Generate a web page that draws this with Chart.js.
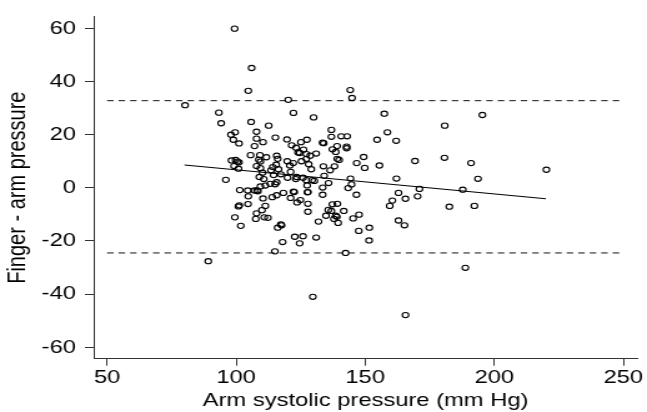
<!DOCTYPE html>
<html><head><meta charset="utf-8">
<script src="https://cdn.jsdelivr.net/npm/chart.js@4"></script>
<style>
html,body{margin:0;padding:0;background:#fff;overflow:hidden;}
#wrap{position:absolute;left:0;top:0;width:518px;height:412px;transform:scaleX(1.249);transform-origin:0 0;}
</style></head><body>
<div id="wrap"><canvas id="c"></canvas></div>
<script>
// Arm systolic pressure (mm Hg)
const armPressure = [
99.4,106,104.7,144.2,144.9,120.2,80.2,
93.3,94.2,122.2,130,157.4,105.8,112.6,98,99.6,98.9,101.1,107.9,107.9,107.1,110.4,115.2,119.7,121.5,123.2,125.1,127.4,126.1,124.6,127.2,131,133.5,133.9,136.9,136.9,140.7,143,139.1,137.3,138.6,142.8,142.8,139.2,139.9,154.6,158.6,162,149.4,146.7,149.8,155.5,136.4,133.8,138.1,128.7,129.1,128.1,127.2,125.3,122.1,120.8,119.8,121.1,115.7,116.1,115.5,114.2,113.5,111.7,109.2,108.8,105.6,109.4,107.9,109.4,110.2,98.2,99.8,100.5,101.1,99.2,100.9,114.5,117.3,116.4,124,
96,109,110.7,101.4,104.5,107.1,108.1,108.4,109.4,111.3,113.2,115.1,115.7,118.3,115.7,114,104.7,110.4,111.3,110,107.9,107.6,110.9,112.3,104.6,100.9,101.2,99.5,101.8,116.1,117.3,117.6,118,115,89.2,
119.9,123.1,123.4,125.9,127.2,129.4,130.3,127.5,134.1,135.8,133.5,144.3,144.7,143.4,146.6,133.5,127.8,127.6,122.5,122.2,121.1,123.6,124.9,127.8,127.8,137.3,139.2,135.7,136.9,141.7,134.8,138.6,139,137.9,139.5,145.3,147.6,131.9,147.5,151.6,151.5,122.7,125.9,124.6,131,142.4,129.7,159.5,160.5,162.9,162.9,162.1,
171,187.8,165.6,170.3,182.6,192.3,165.2,188.8,165.6,
195.4,180.8,169.3,180.7,191,220.2,193.7
];
// Finger - arm pressure
const fingerMinusArm = [
59.9,45.1,36.5,36.8,33.8,33.1,31.1,
28.3,24.3,28.2,26.5,27.9,24.8,23.4,20,20.9,18.1,16.7,21.1,18.5,15.7,17.2,18.9,18.2,16,15.1,17.2,18.1,14.4,13.1,12.7,12.9,17,16.8,21.8,19.2,19.4,19.4,15.7,14.5,13.5,15.5,14.9,10.9,10.5,18.1,20.9,17.7,11.6,9.3,7.5,8.4,6.6,8.1,8.1,12.1,7,8.9,10.9,10,9.3,8.4,10,6,12.1,10.9,8.7,7.8,6.6,11.5,12.3,10.6,12.3,9.9,8.2,7.4,5.7,10.3,10.5,9.9,9.6,8.2,7.2,4.8,5.1,7,13.3,
3.0,4.1,3.3,-0.85,-1,-1,-1,-1.3,0.5,0.86,1.5,1.35,2.1,-1.9,-2.8,-3.5,-3.2,-4,-6.8,-8.4,-9.6,-11.7,-11.1,-11.3,-6.1,-7,-6.6,-11.1,-14.3,-15,-13.8,-14.1,-20.4,-23.9,-27.6,
3.8,3.3,4.1,3.8,2.9,2.9,2.6,0.9,4.5,1.8,0.1,3.5,1.3,-0.1,-2.6,-2.6,-1.6,-1.7,-1.6,-1.4,-3.8,-5.5,-4.6,-6,-9,-6.2,-6,-8.3,-8.7,-8.7,-10.5,-10.5,-10.9,-11.7,-13.2,-11.5,-10.1,-12.7,-16.2,-15,-19.8,-18.4,-18.2,-20.9,-18.7,-24.5,-41,-6.8,-4.8,-1.9,-12.3,3.5,
-0.4,-0.7,-4.1,-3.2,-7.1,-6.8,-14.1,-30.1,-47.9,
27.4,23.4,10.1,11.3,9.3,6.8,3.4
];
// Regression line end points
const fitX = [80, 220];
const fitY = [8.6, -4.1];
// Limits of agreement (dashed)
const limitX = [50, 250];
const upperLimit = 32.8;
const lowerLimit = -24.5;
// Tick labels
const xTicks = [50, 100, 150, 200, 250];
const yTicks = [-60, -40, -20, 0, 20, 40, 60];

const axisColor = '#333';
const textColor = '#000';
const fontFam = '"Liberation Sans", Arial, Helvetica, sans-serif';

const points = armPressure.map((x, i) => ({x: x, y: fingerMinusArm[i]}));
const fitLine = fitX.map((x, i) => ({x: x, y: fitY[i]}));
const upperLine = limitX.map(x => ({x: x, y: upperLimit}));
const lowerLine = limitX.map(x => ({x: x, y: lowerLimit}));

new Chart(document.getElementById('c'), {
  type: 'scatter',
  data: {
    datasets: [
      {data: points, pointStyle: 'circle', pointRadius: 2.6, pointHoverRadius: 2.6,
       borderColor: '#000', borderWidth: 1.1, backgroundColor: 'rgba(0,0,0,0)', showLine: false},
      {data: fitLine, showLine: true, borderColor: '#000', borderWidth: 1.1, pointRadius: 0, fill: false},
      {data: upperLine, showLine: true, borderColor: '#111', borderWidth: 1, borderDash: [5.2, 4], pointRadius: 0, fill: false},
      {data: lowerLine, showLine: true, borderColor: '#111', borderWidth: 1, borderDash: [5.2, 4], pointRadius: 0, fill: false}
    ]
  },
  options: {
    responsive: true,
    maintainAspectRatio: false,
    animation: false,
    events: [],
    layout: {padding: {top: 7, left: 0, right: 0, bottom: 0}},
    plugins: {legend: {display: false}, tooltip: {enabled: false}},
    scales: {
      x: {
        type: 'linear', min: 44.9, max: 255.4,
        afterBuildTicks: s => { s.ticks = xTicks.map(v => ({value: v})); },
        afterFit: s => { s.height = 53.3; },
        grid: {display: true, drawOnChartArea: false, drawTicks: true, tickLength: 7, color: axisColor, lineWidth: 1},
        border: {display: true, color: axisColor, width: 1},
        ticks: {color: textColor, font: {family: fontFam, size: 19, lineHeight: 1}, padding: 3, maxRotation: 0, autoSkip: false},
        title: {display: true, text: 'Arm systolic pressure (mm Hg)', color: textColor,
                font: {family: fontFam, size: 19, lineHeight: 1.2}, padding: {top: 0, bottom: 0}}
      },
      y: {
        type: 'linear', min: -64.3, max: 64.4,
        afterBuildTicks: s => { s.ticks = yTicks.map(v => ({value: v})); },
        afterFit: s => { s.width = 75.2; },
        grid: {display: true, drawOnChartArea: false, drawTicks: true, tickLength: 7.2, color: axisColor, lineWidth: 1},
        border: {display: true, color: axisColor, width: 1},
        ticks: {color: textColor, font: {family: fontFam, size: 19, lineHeight: 1}, padding: 7.2, autoSkip: false},
        title: {display: true, text: 'Finger - arm pressure', color: textColor,
                font: {family: fontFam, size: 20, lineHeight: 1.2}, padding: {top: 2, bottom: 0}}
      }
    }
  }
});
</script>
</body></html>
